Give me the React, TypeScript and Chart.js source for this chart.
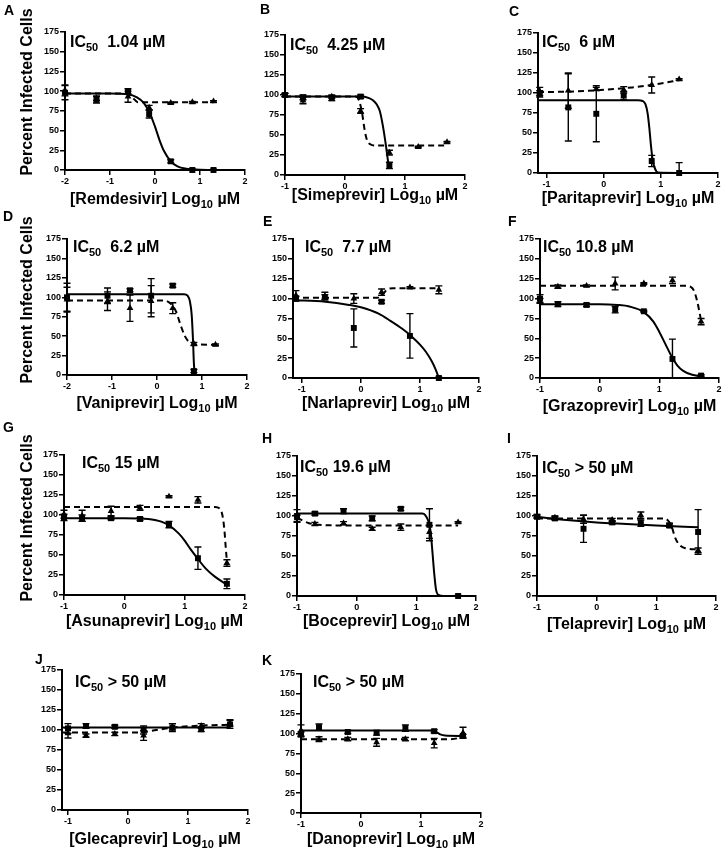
import React, { useEffect, useRef } from "react";
import { Chart, registerables } from "chart.js";

Chart.register(...registerables);

const FONT = '"Liberation Sans", Arial, Helvetica, sans-serif';

// ---------- shared labels / ticks ----------
const Y_TICKS = [0, 25, 50, 75, 100, 125, 150, 175];
const X_TICKS_WIDE = [-2, -1, 0, 1, 2];
const X_TICKS = [-1, 0, 1, 2];
const LETTERS = ["A", "B", "C", "D", "E", "F", "G", "H", "I", "J", "K"];
const DRUGS = ["Remdesivir", "Simeprevir", "Paritaprevir", "Vaniprevir", "Narlaprevir", "Grazoprevir", "Asunaprevir", "Boceprevir", "Telaprevir", "Glecaprevir", "Danoprevir"];
const IC50_LABELS = ["  1.04 µM", "  4.25 µM", "  6 µM", "  6.2 µM", "  7.7 µM", " 10.8 µM", " 15 µM", " 19.6 µM", " > 50 µM", " > 50 µM", " > 50 µM"];
const X_MIN = [-2, -1, -1.15, -2, -1.15, -1, -1, -1, -1, -1.1, -1];
const X_MAX = 2;
const Y_TITLE = "Percent Infected Cells";

// ---------- A: Remdesivir ----------
const remConc = [-2, -1.3, -0.6, -0.13, 0.35, 0.83, 1.3];
const remInf = [98, 89, 100, 71, 11, 0, 0];
const remInfErr = [9, 4, 3, 5, 2, 1, 1];
const remViab = [101, 91, 93, 79, 85, 86, 87];
const remViabErr = [7, 3, 7, 3, 1, 1, 1];
const remFitX = [-2, -1, -0.6, -0.4, -0.25, -0.1, 0, 0.1, 0.2, 0.35, 0.5, 0.7, 0.9, 1.3];
const remFitY = [97, 97, 96, 92, 85, 70, 55, 38, 24, 11, 4.5, 1.5, 0.5, 0];
const remViabFitX = [-2, -0.65, -0.55, -0.45, -0.38, 1.3];
const remViabFitY = [97, 97, 94, 89, 86, 86];

// ---------- B: Simeprevir ----------
const simConc = [-1, -0.7, -0.22, 0.26, 0.74, 1.22, 1.7];
const simInf = [100, 97, 96, 98, 12, null, null];
const simInfErr = [2, 3, 3, 2, 4, 0, 0];
const simViab = [100, 93, 98, 80, 28, 35, 41];
const simViabErr = [2, 4, 2, 3, 3, 1, 1];
const simFitX = [-1, 0.3, 0.4, 0.47, 0.53, 0.58, 0.63, 0.68, 0.72, 0.74];
const simFitY = [98, 98, 96, 93, 88, 80, 62, 38, 16, 8];
const simViabFitX = [-1, 0.18, 0.24, 0.29, 0.33, 0.37, 0.42, 0.5, 1.7];
const simViabFitY = [98, 98, 92, 75, 55, 43, 38.5, 37, 37];

// ---------- C: Paritaprevir ----------
const pariConc = [-1.12, -0.62, -0.13, 0.35, 0.84, 1.32];
const pariInf = [99, 82, 74, 97, 15, 0];
const pariInfErr = [4, 42, 35, 5, 7, 13];
const pariViab = [102, 103, 105, 104, 110, 117];
const pariViabErr = [5, 22, 2, 4, 10, 1];
const pariFitX = [-1.15, 0.6, 0.68, 0.73, 0.77, 0.8, 0.83, 0.86, 0.9, 0.95, 1.32];
const pariFitY = [91, 91, 90, 86, 74, 55, 32, 15, 5, 0.5, 0];
const pariViabFitX = [-1.15, -0.5, 0, 0.5, 1.0, 1.32];
const pariViabFitY = [101, 102, 104, 107, 112, 116];

// ---------- D: Vaniprevir ----------
const vaniConc = [-2, -1.1, -0.6, -0.13, 0.35, 0.82, 1.3];
const vaniInf = [100, 102, 109, 102, 115, 5, null];
const vaniInfErr = [18, 10, 2, 22, 2, 2, 0];
const vaniViab = [97, 95, 86, 95, 86, 40, 39];
const vaniViabErr = [16, 12, 17, 20, 7, 2, 1];
const vaniFitX = [-2, 0.6, 0.68, 0.73, 0.77, 0.8, 0.82, 0.84];
const vaniFitY = [104, 104, 102, 95, 78, 45, 15, 0];
const vaniViabFitX = [-2, 0.15, 0.3, 0.42, 0.52, 0.62, 0.72, 0.85, 1.3];
const vaniViabFitY = [96, 96, 92, 82, 65, 50, 42, 39.5, 39];

// ---------- E: Narlaprevir ----------
const narlConc = [-1.1, -0.61, -0.12, 0.35, 0.83, 1.32];
const narlInf = [100, 102, 63, 96, 53, 0];
const narlInfErr = [3, 3, 24, 2, 28, 1];
const narlViab = [104, 103, 100, 108, 114, 111];
const narlViabErr = [6, 5, 6, 4, 1, 5];
const narlFitX = [-1.15, -0.6, -0.2, 0, 0.3, 0.5, 0.7, 0.85, 1.0, 1.1, 1.2, 1.27, 1.32];
const narlFitY = [98, 96, 92, 89, 81, 72, 62, 53, 42, 33, 21, 10, 0];
const narlViabFitX = [-1.15, 0.28, 0.34, 0.4, 0.46, 0.55, 1.32];
const narlViabFitY = [101, 101, 103, 108, 112, 113, 113];

// ---------- F: Grazoprevir ----------
const grazConc = [-1, -0.7, -0.22, 0.26, 0.74, 1.22, 1.7];
const grazInf = [100, 93, 92, 86, 84, 24, 3];
const grazInfErr = [5, 3, 2, 4, 1, 25, 1];
const grazViab = [97, 115, 116, 119, 119, 123, 71];
const grazViabErr = [3, 2, 1, 8, 1, 4, 4];
const grazFitX = [-1, 0, 0.3, 0.5, 0.74, 0.9, 1.0, 1.1, 1.2, 1.3, 1.4, 1.55, 1.7];
const grazFitY = [93, 93, 92, 90, 83, 71, 58, 43, 28, 16, 9, 4, 2];
const grazViabFitX = [-1, 1.45, 1.52, 1.58, 1.63, 1.67, 1.7];
const grazViabFitY = [116, 116, 115, 110, 98, 84, 72];

// ---------- G: Asunaprevir ----------
const asunConc = [-1, -0.7, -0.22, 0.26, 0.74, 1.22, 1.7];
const asunInf = [97, 96, 96, 95, 88, 46, 14];
const asunInfErr = [4, 4, 2, 2, 4, 14, 6];
const asunViab = [101, 99, 105, 109, 123, 119, 40];
const asunViabErr = [5, 7, 6, 3, 1, 4, 4];
const asunFitX = [-1, 0, 0.4, 0.6, 0.74, 0.9, 1.0, 1.1, 1.2, 1.35, 1.5, 1.7];
const asunFitY = [96, 96, 95, 92, 87, 77, 68, 57, 47, 33, 23, 13];
const asunViabFitX = [-1, 1.5, 1.58, 1.63, 1.66, 1.68, 1.7];
const asunViabFitY = [110, 110, 108, 98, 80, 60, 42];

// ---------- H: Boceprevir ----------
const bocConc = [-1, -0.7, -0.22, 0.26, 0.74, 1.22, 1.7];
const bocInf = [100, 103, 106, 97, 109, 89, 0];
const bocInfErr = [8, 2, 3, 3, 2, 20, 1];
const bocViab = [97, 90, 91, 84, 86, 80, 92];
const bocViabErr = [4, 2, 2, 2, 4, 8, 1];
const bocFitX = [-1, 1.1, 1.15, 1.2, 1.24, 1.27, 1.3, 1.33, 1.38, 1.45, 1.7];
const bocFitY = [103, 103, 101, 94, 80, 55, 28, 8, 1, 0, 0];
const bocViabFitX = [-1, -0.9, -0.8, -0.7, -0.5, 0, 1.7];
const bocViabFitY = [98, 94, 91, 89.5, 88.5, 88, 88];

// ---------- I: Telaprevir ----------
const telConc = [-1, -0.7, -0.22, 0.26, 0.74, 1.22, 1.7];
const telInf = [99, 97, 84, 92, 91, 88, 80];
const telInfErr = [2, 2, 17, 2, 4, 2, 28];
const telViab = [100, 98, 96, 95, 101, 89, 57];
const telViabErr = [2, 2, 5, 2, 4, 2, 3];
const telFitX = [-1, -0.5, 0, 0.5, 1.0, 1.7];
const telFitY = [99, 95, 92, 90, 88, 86];
const telViabFitX = [-1, 1.12, 1.2, 1.26, 1.32, 1.4, 1.5, 1.7];
const telViabFitY = [97, 97, 94, 86, 72, 63, 59.5, 58];

// ---------- J: Glecaprevir ----------
const gleConc = [-1, -0.7, -0.22, 0.26, 0.74, 1.22, 1.7];
const gleInf = [102, 105, 104, 100, 103, 101, 107];
const gleInfErr = [6, 3, 2, 5, 5, 3, 5];
const gleViab = [96, 93, 95, 93, 104, 105, 109];
const gleViabErr = [6, 2, 2, 6, 4, 3, 4];
const gleFitX = [-1.1, 1.7];
const gleFitY = [103, 103];
const gleViabFitX = [-1.1, 0.2, 0.4, 0.6, 0.8, 1.1, 1.4, 1.7];
const gleViabFitY = [97, 97, 99, 101.5, 103.5, 105, 106, 106.5];

// ---------- K: Danoprevir ----------
const danoConc = [-1, -0.7, -0.22, 0.26, 0.74, 1.22, 1.7];
const danoInf = [99, 108, 102, 101, 107, 103, 97];
const danoInfErr = [3, 4, 2, 3, 4, 2, 2];
const danoViab = [104, 93, 93, 89, 93, 88, 101];
const danoViabErr = [7, 3, 2, 5, 2, 6, 7];
const danoFitX = [-1, 1.15, 1.25, 1.32, 1.4, 1.7];
const danoFitY = [104, 104, 102, 99, 97.5, 97];
const danoViabFitX = [-1, 1.5, 1.6, 1.66, 1.7];
const danoViabFitY = [93, 93, 94, 96, 99];

type Series = {
  conc: number[];
  inf: (number | null)[];
  infErr: number[];
  via: (number | null)[];
  viaErr: number[];
  fitX: number[];
  fitY: number[];
  viaFitX: number[];
  viaFitY: number[];
  xTicks: number[];
};

const SERIES: Series[] = [
  { conc: remConc, inf: remInf, infErr: remInfErr, via: remViab, viaErr: remViabErr, fitX: remFitX, fitY: remFitY, viaFitX: remViabFitX, viaFitY: remViabFitY, xTicks: X_TICKS_WIDE },
  { conc: simConc, inf: simInf, infErr: simInfErr, via: simViab, viaErr: simViabErr, fitX: simFitX, fitY: simFitY, viaFitX: simViabFitX, viaFitY: simViabFitY, xTicks: X_TICKS },
  { conc: pariConc, inf: pariInf, infErr: pariInfErr, via: pariViab, viaErr: pariViabErr, fitX: pariFitX, fitY: pariFitY, viaFitX: pariViabFitX, viaFitY: pariViabFitY, xTicks: X_TICKS },
  { conc: vaniConc, inf: vaniInf, infErr: vaniInfErr, via: vaniViab, viaErr: vaniViabErr, fitX: vaniFitX, fitY: vaniFitY, viaFitX: vaniViabFitX, viaFitY: vaniViabFitY, xTicks: X_TICKS_WIDE },
  { conc: narlConc, inf: narlInf, infErr: narlInfErr, via: narlViab, viaErr: narlViabErr, fitX: narlFitX, fitY: narlFitY, viaFitX: narlViabFitX, viaFitY: narlViabFitY, xTicks: X_TICKS },
  { conc: grazConc, inf: grazInf, infErr: grazInfErr, via: grazViab, viaErr: grazViabErr, fitX: grazFitX, fitY: grazFitY, viaFitX: grazViabFitX, viaFitY: grazViabFitY, xTicks: X_TICKS },
  { conc: asunConc, inf: asunInf, infErr: asunInfErr, via: asunViab, viaErr: asunViabErr, fitX: asunFitX, fitY: asunFitY, viaFitX: asunViabFitX, viaFitY: asunViabFitY, xTicks: X_TICKS },
  { conc: bocConc, inf: bocInf, infErr: bocInfErr, via: bocViab, viaErr: bocViabErr, fitX: bocFitX, fitY: bocFitY, viaFitX: bocViabFitX, viaFitY: bocViabFitY, xTicks: X_TICKS },
  { conc: telConc, inf: telInf, infErr: telInfErr, via: telViab, viaErr: telViabErr, fitX: telFitX, fitY: telFitY, viaFitX: telViabFitX, viaFitY: telViabFitY, xTicks: X_TICKS },
  { conc: gleConc, inf: gleInf, infErr: gleInfErr, via: gleViab, viaErr: gleViabErr, fitX: gleFitX, fitY: gleFitY, viaFitX: gleViabFitX, viaFitY: gleViabFitY, xTicks: X_TICKS },
  { conc: danoConc, inf: danoInf, infErr: danoInfErr, via: danoViab, viaErr: danoViabErr, fitX: danoFitX, fitY: danoFitY, viaFitX: danoViabFitX, viaFitY: danoViabFitY, xTicks: X_TICKS },
];

// ---------- layout (page pixels) ----------
const BOXES = [
  { l: 65, t: 32, r: 245, b: 170 },
  { l: 285, t: 35, r: 465, b: 175 },
  { l: 538, t: 33, r: 718, b: 173 },
  { l: 67, t: 239, r: 247, b: 375 },
  { l: 293, t: 239, r: 479, b: 378 },
  { l: 540, t: 239, r: 719, b: 378 },
  { l: 64, t: 455, r: 245, b: 595 },
  { l: 297, t: 456, r: 476, b: 596 },
  { l: 537, t: 456, r: 716, b: 596 },
  { l: 62, t: 670, r: 248, b: 810 },
  { l: 301, t: 674, r: 481, b: 813 },
];
const LETTER_POS = [[4, 10], [260, 9], [509, 11], [3, 216], [263, 221], [508, 221], [3, 427], [262, 438], [507, 438], [35, 659], [262, 660]];
const IC_POS = [[70, 47], [290, 50], [542, 47], [73, 252], [305, 252], [543, 252], [82, 468], [300, 472], [542, 473], [75, 687], [313, 687]];
const XTITLE_Y = [199, 195, 198, 403, 403, 406, 621, 621, 624, 839, 839];
const YTITLE_POS: ([number, number] | null)[] = [[28, 92], null, null, [28, 300], null, null, [28, 518], null, null, null, null];

const PAD_L = 65, PAD_T = 35, PAD_R = 14, PAD_B = 48;
const Y_W = 30, X_H = 18;

type Seg = { t: string; size: number; dy: number };
function drawRich(ctx: CanvasRenderingContext2D, segs: Seg[], x: number, y: number, center: boolean) {
  let w = 0;
  for (const s of segs) {
    ctx.font = `bold ${s.size}px ${FONT}`;
    w += ctx.measureText(s.t).width;
  }
  let cx = center ? x - w / 2 : x;
  ctx.textAlign = "left";
  ctx.textBaseline = "alphabetic";
  for (const s of segs) {
    ctx.font = `bold ${s.size}px ${FONT}`;
    ctx.fillText(s.t, cx, y + s.dy);
    cx += ctx.measureText(s.t).width;
  }
}

const errorBarPlugin = {
  id: "errorBars",
  beforeDatasetsDraw(chart: any) {
    const { ctx, scales } = chart;
    const xs = scales.x, ys = scales.y;
    ctx.save();
    ctx.strokeStyle = "#000";
    ctx.lineWidth = 1.4;
    chart.data.datasets.forEach((ds: any) => {
      if (!ds.isMarker) return;
      ds.data.forEach((pt: any) => {
        if (!pt || !pt.e) return;
        const px = xs.getPixelForValue(pt.x);
        const yHi = ys.getPixelForValue(pt.y + pt.e);
        const yLo = ys.getPixelForValue(Math.max(0, pt.y - pt.e));
        ctx.beginPath();
        ctx.moveTo(px, yHi);
        ctx.lineTo(px, yLo);
        ctx.moveTo(px - 3.5, yHi);
        ctx.lineTo(px + 3.5, yHi);
        ctx.moveTo(px - 3.5, yLo);
        ctx.lineTo(px + 3.5, yLo);
        ctx.stroke();
      });
    });
    ctx.restore();
  },
};

function Panel({ idx }: { idx: number }) {
  const ref = useRef<HTMLCanvasElement>(null);
  const box = BOXES[idx];
  const cw = box.r - box.l + PAD_L + PAD_R;
  const ch = box.b - box.t + PAD_T + PAD_B;
  const ox = box.l - PAD_L;
  const oy = box.t - PAD_T;

  useEffect(() => {
    const s = SERIES[idx];
    const markers = (vals: (number | null)[], errs: number[]) =>
      s.conc
        .map((c, i) => (vals[i] == null ? null : { x: c, y: vals[i] as number, e: errs[i] }))
        .filter((p) => p !== null);
    const curve = (xs: number[], ys: number[]) => xs.map((x, i) => ({ x, y: ys[i] }));

    const textPlugin = {
      id: "panelText",
      afterDraw(chart: any) {
        const ctx = chart.ctx as CanvasRenderingContext2D;
        const area = chart.chartArea;
        ctx.save();
        ctx.fillStyle = "#000";
        const [lx, ly] = LETTER_POS[idx];
        ctx.font = `bold 14px ${FONT}`;
        ctx.textAlign = "left";
        ctx.textBaseline = "alphabetic";
        ctx.fillText(LETTERS[idx], lx - ox, ly - oy + 5);
        const [ix, iy] = IC_POS[idx];
        drawRich(ctx, [
          { t: "IC", size: 16, dy: 0 },
          { t: "50", size: 11, dy: 4 },
          { t: IC50_LABELS[idx], size: 16, dy: 0 },
        ], ix - ox, iy - oy, false);
        drawRich(ctx, [
          { t: `[${DRUGS[idx]}] Log`, size: 16, dy: 0 },
          { t: "10", size: 11, dy: 4 },
          { t: " µM", size: 16, dy: 0 },
        ], (area.left + area.right) / 2, XTITLE_Y[idx] - oy + 5, true);
        const yt = YTITLE_POS[idx];
        if (yt) {
          ctx.translate(yt[0] - ox, yt[1] - oy);
          ctx.rotate(-Math.PI / 2);
          ctx.font = `bold 16px ${FONT}`;
          ctx.textAlign = "center";
          ctx.textBaseline = "middle";
          ctx.fillText(Y_TITLE, 0, 0);
        }
        ctx.restore();
      },
    };

    const tickFont = { family: FONT, size: 9, weight: "bold" as const };
    const chart = new Chart(ref.current as HTMLCanvasElement, {
      type: "scatter",
      data: {
        datasets: [
          {
            label: "Infection",
            data: markers(s.inf, s.infErr) as any,
            isMarker: true,
            pointStyle: "rect",
            pointRadius: 4.2,
            backgroundColor: "#000",
            borderColor: "#000",
            borderWidth: 0,
            showLine: false,
            order: 0,
          } as any,
          {
            label: "Viability",
            data: markers(s.via, s.viaErr) as any,
            isMarker: true,
            pointStyle: "triangle",
            pointRadius: 3.9,
            backgroundColor: "#000",
            borderColor: "#000",
            borderWidth: 0,
            showLine: false,
            order: 0,
          } as any,
          {
            label: "Infection fit",
            data: curve(s.fitX, s.fitY),
            showLine: true,
            borderColor: "#000",
            borderWidth: 2,
            pointRadius: 0,
            cubicInterpolationMode: "monotone",
            order: 1,
          } as any,
          {
            label: "Viability fit",
            data: curve(s.viaFitX, s.viaFitY),
            showLine: true,
            borderColor: "#000",
            borderWidth: 2,
            borderDash: [6, 4],
            pointRadius: 0,
            cubicInterpolationMode: "monotone",
            order: 1,
          } as any,
        ],
      },
      options: {
        responsive: false,
        animation: false,
        devicePixelRatio: 1,
        events: [],
        layout: { padding: { left: PAD_L - Y_W, top: PAD_T, right: PAD_R, bottom: PAD_B - X_H } },
        plugins: { legend: { display: false }, tooltip: { enabled: false } },
        datasets: { scatter: { clip: false } } as any,
        scales: {
          x: {
            type: "linear",
            min: X_MIN[idx],
            max: X_MAX,
            afterBuildTicks: (sc: any) => {
              sc.ticks = s.xTicks.map((v) => ({ value: v }));
            },
            afterFit: (sc: any) => {
              sc.height = X_H;
            },
            grid: { drawOnChartArea: false, drawTicks: true, tickLength: 5, color: "#000", lineWidth: 1.5 },
            border: { display: true, color: "#000", width: 2 },
            ticks: { font: tickFont, color: "#000", padding: 1, maxRotation: 0, autoSkip: false },
          },
          y: {
            type: "linear",
            min: 0,
            max: 175,
            afterBuildTicks: (sc: any) => {
              sc.ticks = Y_TICKS.map((v) => ({ value: v }));
            },
            afterFit: (sc: any) => {
              sc.width = Y_W;
            },
            grid: { drawOnChartArea: false, drawTicks: true, tickLength: 5, color: "#000", lineWidth: 1.5 },
            border: { display: true, color: "#000", width: 2 },
            ticks: { font: tickFont, color: "#000", padding: 1, autoSkip: false },
          },
        },
      } as any,
      plugins: [errorBarPlugin, textPlugin],
    });
    return () => chart.destroy();
  }, [idx]);

  return (
    <canvas
      ref={ref}
      width={cw}
      height={ch}
      style={{ position: "absolute", left: ox, top: oy, width: cw, height: ch }}
    />
  );
}

export default function App() {
  return (
    <div
      style={{
        position: "absolute",
        left: 0,
        top: 0,
        width: 724,
        height: 853,
        overflow: "hidden",
        background: "#fff",
      }}
    >
      {LETTERS.map((_, i) => (
        <Panel key={i} idx={i} />
      ))}
    </div>
  );
}
